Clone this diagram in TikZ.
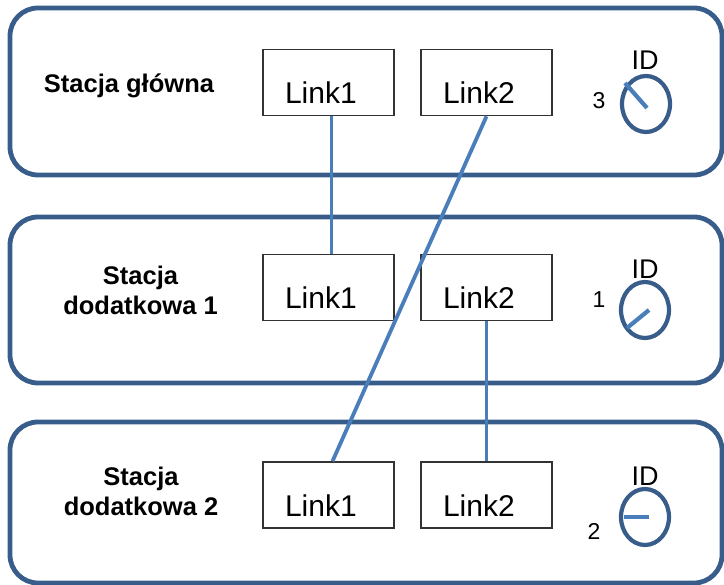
\documentclass[tikz,border=0pt]{standalone}
\usepackage{fontspec}
\setmainfont{Liberation Sans}
\usetikzlibrary{shapes.geometric}
\definecolor{frameblue}{HTML}{385D8A}
\definecolor{wireblue}{HTML}{4A7EBB}

\begin{document}
\begin{tikzpicture}[x=1pt,y=-1pt,
    station/.style={draw=frameblue, line width=4.8pt, rounded corners=28pt, minimum width=712pt},
    stname/.style={font=\bfseries\fontsize{25.5}{30}\selectfont, align=center},
    linkbox/.style={draw=black!80, line width=1.6pt, minimum height=66pt, inner xsep=22pt, inner ysep=0pt,
      text width=87pt, align=left, text height=54.5pt, text depth=11.5pt, font=\fontsize{30}{34}\selectfont},
    dial/.style={draw=frameblue, ellipse, line width=4.2pt, minimum width=48pt, minimum height=56pt, inner sep=0pt},
    idtext/.style={font=\fontsize{27}{30}\selectfont, inner sep=0pt},
    numtext/.style={font=\fontsize{23}{26}\selectfont, inner sep=0pt},
    needle/.style={draw=wireblue, line width=4.2pt},
    wire/.style={draw=wireblue, line width=3.8pt}]
    \useasboundingbox (0,0) rectangle (724,585);
    % stations
    \node[station, minimum height=167pt] (sA) at (366,91.5) {};
    \node[station, minimum height=166pt] (sB) at (366,300) {};
    \node[station, minimum height=161pt] (sC) at (366,502.5) {};
    \node[stname] (nameA) at (129,86) {Stacja główna};
    \node[stname] (nameB) at (140.5,290) {Stacja\\dodatkowa 1};
    \node[stname] (nameC) at (141,491) {Stacja\\dodatkowa 2};
    % links
    \node[linkbox] (a1) at (328.5,82.5) {Link1};
    \node[linkbox] (a2) at (486.5,82.5) {Link2};
    \node[linkbox] (b1) at (328.5,287.5) {Link1};
    \node[linkbox] (b2) at (486.5,287.5) {Link2};
    \node[linkbox] (c1) at (328.5,495) {Link1};
    \node[linkbox] (c2) at (486.5,495) {Link2};
    % ID switches
    \node[dial] (dA) at (646,104) {};
    \node[dial] (dB) at (645,310) {};
    \node[dial] (dC) at (645,517) {};
    \node[idtext] (idA) at (645,60) {ID};
    \node[idtext] (idB) at (645,269) {ID};
    \node[idtext] (idC) at (645,476) {ID};
    \node[numtext] (numA) at (599,101) {3};
    \node[numtext] (numB) at (599,300) {1};
    \node[numtext] (numC) at (594,531) {2};
    \draw[needle] ([xshift=1pt,yshift=-4pt]dA.center) -- ++(-22,-25);
    \draw[needle] ([xshift=4pt]dB.center) -- ++(-22,18);
    \draw[needle] ([xshift=-21pt]dC.center) -- ([xshift=4pt]dC.center);
    % cabling
    \draw[wire] ([xshift=3pt]a1.south) -- ([xshift=3pt]b1.north);
    \draw[wire] (a2.south) -- ([xshift=4pt]c1.north);
    \draw[wire] (b2.south) -- (c2.north);
\end{tikzpicture}
\end{document}
